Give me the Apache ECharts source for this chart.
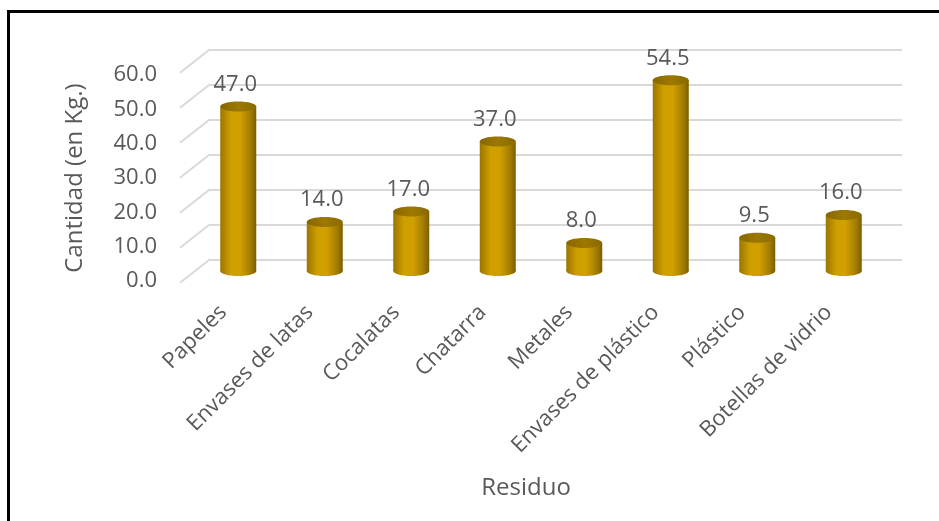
<!DOCTYPE html>
<html><head><meta charset="utf-8">
<script src="https://cdn.jsdelivr.net/npm/echarts@6/dist/echarts.min.js"></script>
<style>html,body{margin:0;padding:0;background:#fff}#c{width:939px;height:521px}</style>
</head><body><div id="c"></div>
<script>
const categories = ['Papeles','Envases de latas','Cocalatas','Chatarra','Metales','Envases de plástico','Plástico','Botellas de vidrio'];
const values = [47.0, 14.0, 17.0, 37.0, 8.0, 54.5, 9.5, 16.0];
const yTicks = [0, 10, 20, 30, 40, 50, 60];

const FONT = '"Open Sans", sans-serif';
const TXT = '#595959';
const chart = echarts.init(document.getElementById('c'), null, {renderer: 'canvas'});

function bodyGrad() {
  return new echarts.graphic.LinearGradient(0, 0, 1, 0, [
    {offset: 0, color: '#9a7500'},
    {offset: 0.3, color: '#cf9f00'},
    {offset: 0.55, color: '#d1a000'},
    {offset: 0.85, color: '#a17b00'},
    {offset: 1, color: '#7a5c00'}
  ]);
}
function topGrad() {
  return new echarts.graphic.LinearGradient(0, 0, 1, 0, [
    {offset: 0, color: '#866700'},
    {offset: 0.5, color: '#9d7900'},
    {offset: 1, color: '#8a6a00'}
  ]);
}

const option = {
  animation: false,
  backgroundColor: '#ffffff',
  graphic: [{
    type: 'polyline',
    shape: {points: [[8.5, 521], [8.5, 11.5], [939, 11.5]]},
    style: {stroke: '#000', lineWidth: 3, fill: null},
    z: 100
  }],
  grid: [
    {left: 210, right: 37, top: 49.3, bottom: 261.7},
    {left: 195, right: 52, top: 61, bottom: 250},
    {left: 180, right: 67, top: 75, bottom: 240}
  ],
  xAxis: [
    {gridIndex: 0, type: 'category', data: categories, show: false},
    {gridIndex: 1, type: 'category', data: categories, show: false},
    {gridIndex: 2, type: 'category', data: categories,
      axisLine: {show: false}, axisTick: {show: false},
      axisLabel: {rotate: 45, interval: 0, margin: 28, fontSize: 22, color: TXT, fontFamily: FONT},
      name: 'Residuo', nameLocation: 'middle', nameGap: 195,
      nameTextStyle: {fontSize: 24, color: TXT, fontFamily: FONT}}
  ],
  yAxis: [
    {gridIndex: 0, type: 'value', min: 0, max: 60, interval: 10,
      axisLine: {show: false}, axisTick: {show: false}, axisLabel: {show: false},
      splitLine: {lineStyle: {color: '#d9d9d9', width: 2}}},
    {gridIndex: 1, type: 'value', min: 0, max: 60, interval: 10, show: false, splitLine: {show: false}},
    {gridIndex: 2, type: 'value', min: 0, max: 60, interval: 10,
      axisLine: {show: false}, axisTick: {show: false}, splitLine: {show: false},
      axisLabel: {formatter: v => v.toFixed(1), margin: 23, fontSize: 22, color: TXT, fontFamily: FONT},
      name: 'Cantidad (en Kg.)', nameLocation: 'middle', nameGap: 93, nameRotate: 90,
      nameTextStyle: {fontSize: 24, color: TXT, fontFamily: FONT}}
  ],
  series: [
    {
      type: 'custom', name: 'depth', xAxisIndex: 0, yAxisIndex: 0,
      data: yTicks.map(v => [0, v]),
      silent: true, z: 1,
      renderItem: function (params, api) {
        const p = api.coord([api.value(0), api.value(1)]);
        const half = api.size([1, 0])[0] / 2;
        const x0 = p[0] - half;
        return {
          type: 'line',
          shape: {x1: x0, y1: p[1], x2: x0 - 30, y2: p[1] + 23.5},
          style: {stroke: '#d9d9d9', lineWidth: 2}
        };
      }
    },
    {
      type: 'custom', name: 'Cantidad', xAxisIndex: 1, yAxisIndex: 1,
      data: values.map((v, i) => [i, v]),
      z: 5,
      renderItem: function (params, api) {
        const v = api.value(1);
        const top = api.coord([api.value(0), v]);
        const base = api.coord([api.value(0), 0]);
        const w = 36, rx = w / 2, ry = 5;
        const cx = top[0];
        return {
          type: 'group',
          children: [
            {type: 'ellipse', shape: {cx: cx, cy: base[1], rx: rx, ry: ry}, style: {fill: bodyGrad()}},
            {type: 'rect', shape: {x: cx - rx, y: top[1], width: w, height: base[1] - top[1]}, style: {fill: bodyGrad()}},
            {type: 'ellipse', shape: {cx: cx, cy: top[1], rx: rx, ry: ry}, style: {fill: topGrad()}},
            {type: 'text', style: {x: cx - 3, y: top[1] - 22, text: v.toFixed(1), align: 'center', verticalAlign: 'middle',
              fontSize: 22, fontFamily: FONT, fill: TXT}}
          ]
        };
      }
    }
  ]
};
chart.setOption(option);
</script>
</body></html>
